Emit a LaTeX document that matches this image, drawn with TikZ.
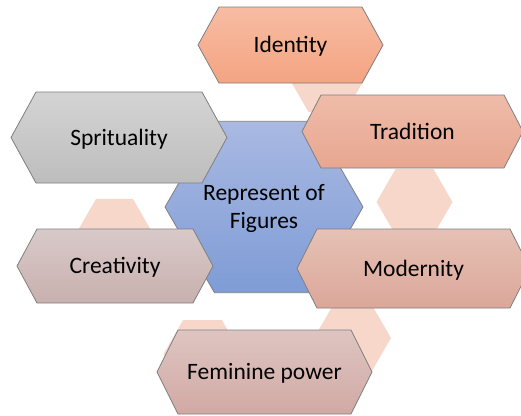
\documentclass[tikz,border=0pt]{standalone}
\usepackage{fontspec}
\setmainfont{Carlito}

% colours of the tags and of the faint backdrop cells
\definecolor{edgegray}{HTML}{7F7F7F}
\definecolor{cellpink}{HTML}{F8D7CB}
\definecolor{idTop}{HTML}{F7BCA3}
\definecolor{idBot}{HTML}{F4A482}
\definecolor{trTop}{HTML}{EEBCA9}
\definecolor{trBot}{HTML}{E8A690}
\definecolor{spTop}{HTML}{D4D4D4}
\definecolor{spBot}{HTML}{BDBDBD}
\definecolor{hubTop}{HTML}{A9B9E2}
\definecolor{hubBot}{HTML}{7F9CD6}
\definecolor{crTop}{HTML}{D8CACA}
\definecolor{crBot}{HTML}{C8B0AD}
\definecolor{moTop}{HTML}{E6C1B5}
\definecolor{moBot}{HTML}{DBA799}
\definecolor{fpTop}{HTML}{DEC5C1}
\definecolor{fpBot}{HTML}{D1A9A4}

% elongated hexagon tag: name, cx, cy, half width, half height, tip, fill style, text
\newcommand\tagbox[8]{%
  \path[outline,#7] ({#2-#4},#3) -- ({#2-#4+#6},{#3-#5}) -- ({#2+#4-#6},{#3-#5})
    -- ({#2+#4},#3) -- ({#2+#4-#6},{#3+#5}) -- ({#2-#4+#6},{#3+#5}) -- cycle;
  \node[tagtext] (#1) at (#2,#3) {#8};}

% regular flat-topped hexagon: cx, cy, side, style
\newcommand\hexcell[4]{%
  \path[#4] ({#1-#3},#2) -- ({#1-#3/2},{#2-0.866*#3}) -- ({#1+#3/2},{#2-0.866*#3})
    -- ({#1+#3},#2) -- ({#1+#3/2},{#2+0.866*#3}) -- ({#1-#3/2},{#2+0.866*#3}) -- cycle;}

\begin{document}
\begin{tikzpicture}[x=1pt,y=-1pt,
  outline/.style={draw=edgegray, line width=0.8pt, line join=miter},
  backcell/.style={fill=cellpink},
  tagtext/.style={font=\fontsize{23.5}{28}\selectfont, text=black, inner sep=0pt,
    text height=15.1pt, text depth=0pt, align=center}]

\useasboundingbox (0,0) rectangle (521,415);
\clip (0,0) rectangle (521,415);

% backdrop cells
\hexcell{327}{80}{37}{backcell}
\hexcell{414.5}{202}{38}{backcell}
\hexcell{114.5}{231}{37}{backcell}
\hexcell{352.5}{338}{38.5}{backcell}
\hexcell{202.5}{354}{39}{backcell}

% central hexagon (two-line label: the box is measured on its last line)
\hexcell{264}{207}{99}{outline, top color=hubTop, bottom color=hubBot}
\node[tagtext] (hub) at (264,221) {Represent of\\Figures};

% surrounding tags
\tagbox{identity}{290.5}{45}{92.5}{38}{21}{top color=idTop, bottom color=idBot}{Identity}
\tagbox{spirit}{119}{137.5}{108}{45.5}{25}{top color=spTop, bottom color=spBot}{Sprituality}
\tagbox{tradition}{412.5}{131.5}{110.5}{36.5}{19}{top color=trTop, bottom color=trBot}{Tradition}
\tagbox{creativity}{115}{266}{98}{37}{20}{top color=crTop, bottom color=crBot}{Creativity}
\tagbox{modernity}{413.5}{268.5}{116.5}{39.5}{20}{top color=moTop, bottom color=moBot}{Modernity}
\tagbox{feminine}{264.5}{372}{107.5}{42}{21}{top color=fpTop, bottom color=fpBot}{Feminine power}

\end{tikzpicture}
\end{document}
